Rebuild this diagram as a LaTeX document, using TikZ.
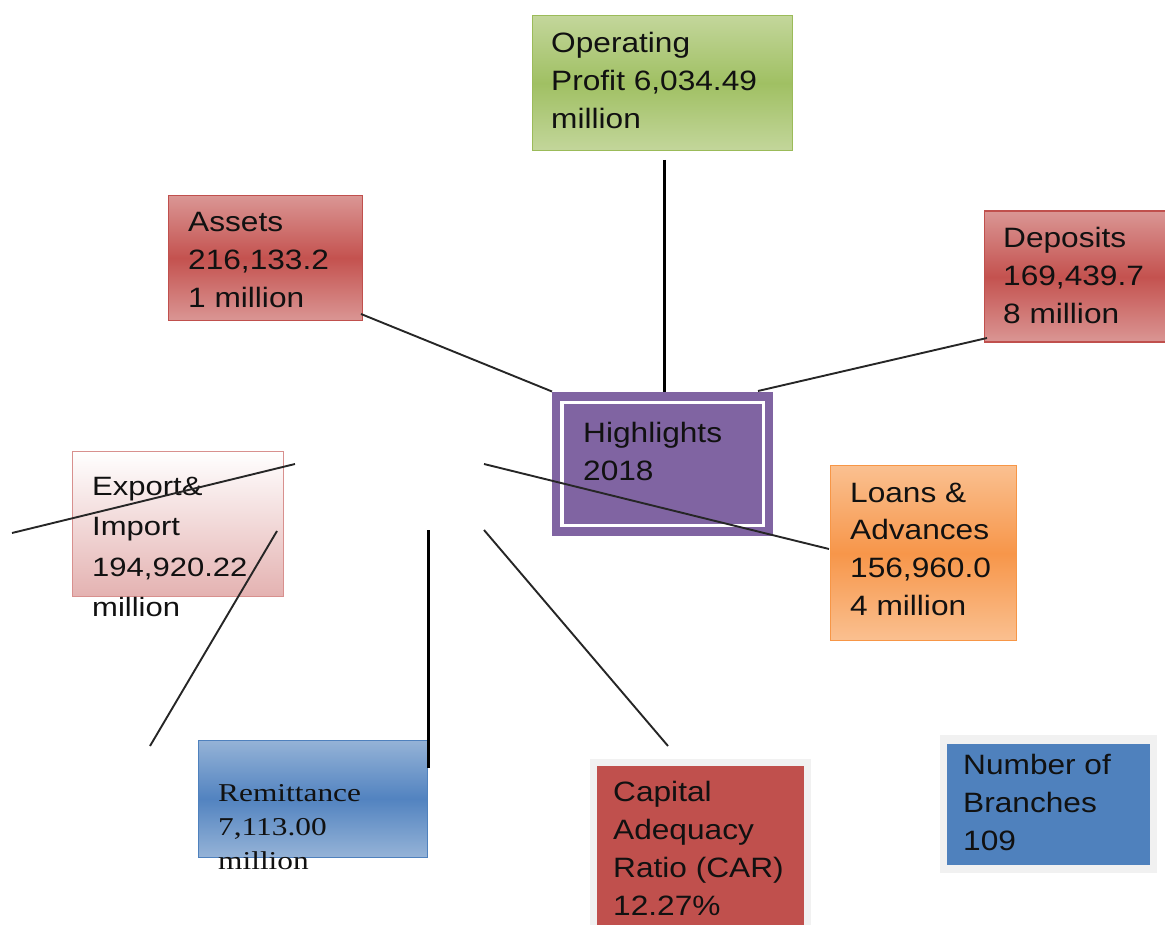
\documentclass[tikz,border=0pt]{standalone}
\usepackage{fontspec}
\setmainfont{Liberation Sans}
\newfontfamily\arialA{Liberation Sans}[FakeStretch=1.13]
\newfontfamily\arialB{Liberation Sans}[FakeStretch=1.17]
\newfontfamily\timesA{Liberation Serif}[FakeStretch=1.22]
\usetikzlibrary{calc}
\definecolor{txtc}{HTML}{111111}
\definecolor{grnE}{HTML}{9BBB59}
\definecolor{grnL}{HTML}{C3D69B}
\definecolor{grnM}{HTML}{A0C063}
\definecolor{redE}{HTML}{C0504D}
\definecolor{redL}{HTML}{DA9694}
\definecolor{redM}{HTML}{C4524F}
\definecolor{orgE}{HTML}{F79646}
\definecolor{orgL}{HTML}{FAC090}
\definecolor{orgM}{HTML}{F7964A}
\definecolor{pnkE}{HTML}{D8908E}
\definecolor{pnkB}{HTML}{E4B2B1}
\definecolor{bluE}{HTML}{4F81BD}
\definecolor{bluL}{HTML}{95B3D7}
\definecolor{bluM}{HTML}{5283C0}
\definecolor{purF}{HTML}{8064A2}
\definecolor{gryB}{HTML}{F1F1F1}
\definecolor{lineC}{HTML}{262626}
\tikzset{
  boxbase/.style={rectangle, inner sep=0pt, anchor=north west, line width=1.3pt},
  greenbox/.style={boxbase, draw=grnE, top color=grnL, bottom color=grnL, middle color=grnM},
  redgrad/.style={boxbase, draw=redE, top color=redL, bottom color=redL, middle color=redM},
  orangebox/.style={boxbase, draw=orgE, top color=orgL, bottom color=orgL, middle color=orgM},
  pinkbox/.style={boxbase, draw=pnkE, top color=white, bottom color=pnkB},
  bluegrad/.style={boxbase, draw=bluE, top color=bluL, bottom color=bluL, middle color=bluM},
  purplebox/.style={boxbase, draw=purF, fill=purF},
  grayback/.style={boxbase, draw=none, fill=gryB},
  solidred/.style={boxbase, draw=none, fill=redE},
  solidblue/.style={boxbase, draw=none, fill=bluE},
  txt/.style={anchor=north west, inner sep=0pt, align=left, text=txtc, font=\arialA\fontsize{28}{37.8}\selectfont},
  txtexp/.style={txt, font=\arialB\fontsize{26.5}{40.3}\selectfont},
  txtrem/.style={txt, font=\timesA\fontsize{25.7}{34}\selectfont},
  thinline/.style={draw=lineC, line width=1.9pt},
  thickline/.style={draw=black, line width=3pt},
}
\begin{document}
\begin{tikzpicture}[x=1pt,y=-1pt]
\useasboundingbox (0,0) rectangle (1165,925);
% boxes
\node[greenbox, minimum width=260pt, minimum height=135pt] (op) at (531.5,15) {};
\node[redgrad, minimum width=194pt, minimum height=125pt] (as) at (167.5,195) {};
\node[redgrad, minimum width=184pt, minimum height=131pt] (dp) at (983.5,210.5) {};
\node[purplebox, minimum width=220pt, minimum height=143pt] (hl) at (552,391.5) {};
\draw[white, line width=3.2pt] ($(hl.north west)+(10,11)$) rectangle ($(hl.south east)+(-10,-10)$);
\node[orangebox, minimum width=186pt, minimum height=175pt] (lo) at (829.5,465) {};
\node[pinkbox, minimum width=211pt, minimum height=145pt] (ex) at (72,451) {};
\node[bluegrad, minimum width=229pt, minimum height=117pt] (rm) at (198,739.5) {};
\node[grayback, minimum width=221pt, minimum height=167pt] (cabg) at (589,758) {};
\node[solidred, minimum width=207pt, minimum height=160pt] (ca) at (596,765) {};
\node[grayback, minimum width=217pt, minimum height=138pt] (nbbg) at (939,734) {};
\node[solidblue, minimum width=203pt, minimum height=121pt] (nb) at (946,743) {};
% texts
\node[txt] (opt) at (551,32.5) {Operating\\Profit 6,034.49\\million};
\node[txt] (ast) at (188,212.5) {Assets\\216,133.2\\1 million};
\node[txt] (dpt) at (1003,227.5) {Deposits\\169,439.7\\8 million};
\node[txt] (hlt) at (583,422.5) {Highlights\\2018};
\node[txt] (lot) at (850,482.5) {Loans \&\\Advances\\156,960.0\\4 million};
\node[txtexp] (ext) at (92,477) {Export\&\\Import\\194,920.22\\million};
\node[txtrem] (rmt) at (218,784.5) {Remittance\\7,113.00\\million};
\node[txt] (cat) at (613,781.5) {Capital\\Adequacy\\Ratio (CAR)\\12.27\%};
\node[txt] (nbt) at (963,754.5) {Number of\\Branches\\109};
% connector ends
\coordinate (opA) at (664,160);
\coordinate (asA) at (361,314);
\coordinate (dpA) at (987,338);
\coordinate (dpB) at (758,391);
\coordinate (loA) at (484,464);
\coordinate (loB) at (829,549);
\coordinate (exA) at (12,533);
\coordinate (exB) at (295,464);
\coordinate (exC) at (150,746);
\coordinate (exD) at (277,531);
\coordinate (rmA) at (428,530);
\coordinate (rmB) at (428,768);
\coordinate (caA) at (484,530);
\coordinate (caB) at (668,746);
% connectors
\draw[thickline] (opA) -- (opA |- hl.north);
\draw[thinline] (asA) -- (hl.north west);
\draw[thinline] (dpA) -- (dpB);
\draw[thinline] (loA) -- (loB);
\draw[thinline] (exA) -- (exB);
\draw[thinline] (exC) -- (exD);
\draw[thickline] (rmA) -- (rmB);
\draw[thinline] (caA) -- (caB);
\end{tikzpicture}
\end{document}
